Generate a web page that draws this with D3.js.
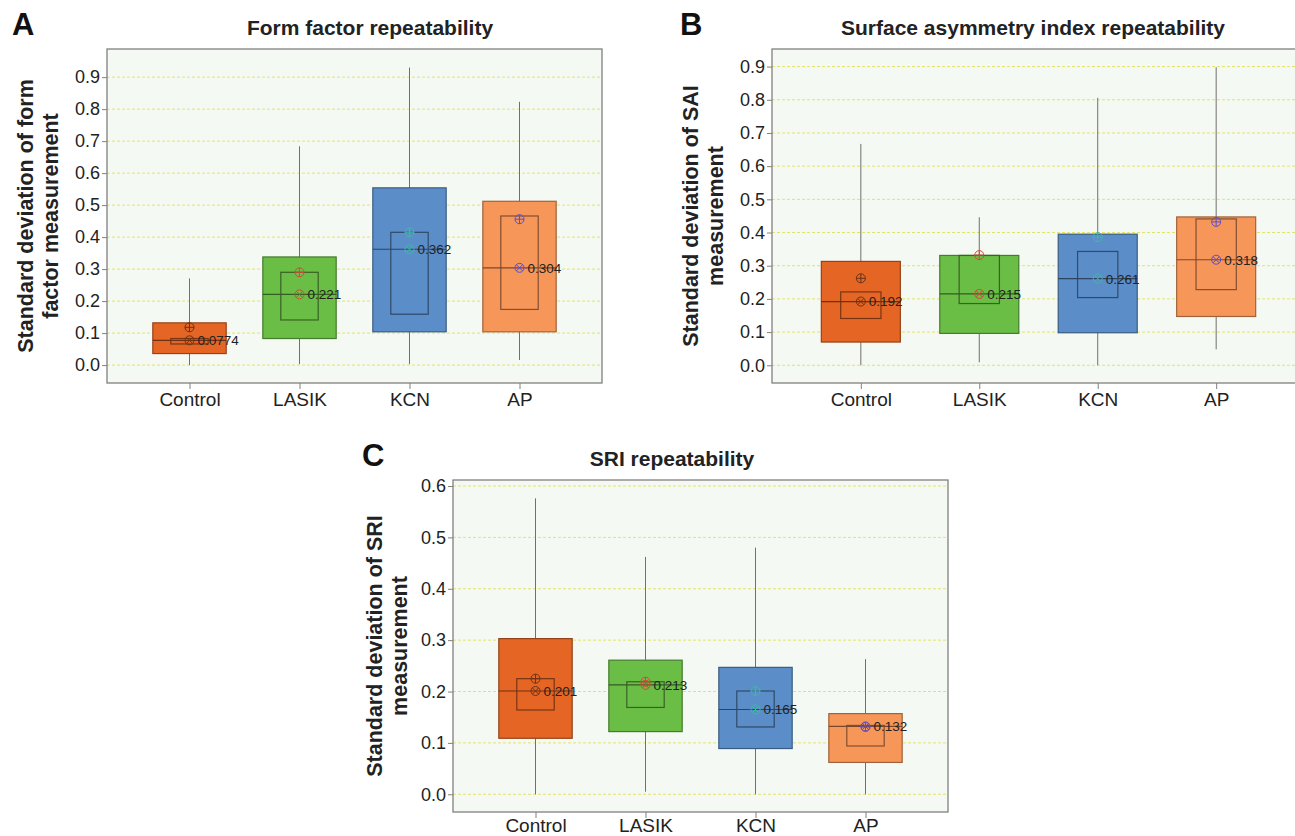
<!DOCTYPE html>
<html lang="en">
<head>
    <meta charset="UTF-8">
    <title>Repeatability box plots</title>
    <script src="https://d3js.org/d3.v7.min.js"></script>
    <style>
        body { margin: 0; background: #fff; }
        text { font-family: "Liberation Sans", Arial, sans-serif; }
    </style>
</head>
<body>
<div id="chart"></div>
<script>
    // groups shared by all three panels
    var categories = ["Control", "LASIK", "KCN", "AP"];
    var boxColors = ["#e56524", "#6abd45", "#5b8dc8", "#f79659"];
    var markColors = ["#6b3317", "#d9463a", "#3fb8a6", "#5a4fcf"];

    // panel A: form factor
    var ffWhiskLo = [0.000, 0.003, 0.003, 0.016];
    var ffQ1      = [0.036, 0.083, 0.104, 0.104];
    var ffMedian  = [0.0774, 0.221, 0.362, 0.304];
    var ffQ3      = [0.132, 0.338, 0.554, 0.512];
    var ffWhiskHi = [0.271, 0.684, 0.930, 0.823];
    var ffCiLo    = [0.066, 0.141, 0.159, 0.174];
    var ffCiHi    = [0.083, 0.290, 0.415, 0.466];
    var ffMean    = [0.118, 0.290, 0.415, 0.456];

    // panel B: SAI
    var saiWhiskLo = [0.000, 0.009, 0.000, 0.048];
    var saiQ1      = [0.070, 0.096, 0.098, 0.147];
    var saiMedian  = [0.192, 0.215, 0.261, 0.318];
    var saiQ3      = [0.313, 0.331, 0.395, 0.447];
    var saiWhiskHi = [0.667, 0.446, 0.806, 0.898];
    var saiCiLo    = [0.141, 0.186, 0.204, 0.228];
    var saiCiHi    = [0.221, 0.331, 0.343, 0.441];
    var saiMean    = [0.262, 0.332, 0.386, 0.432];

    // panel C: SRI
    var sriWhiskLo = [0.000, 0.005, 0.000, 0.000];
    var sriQ1      = [0.109, 0.122, 0.089, 0.062];
    var sriMedian  = [0.201, 0.213, 0.165, 0.132];
    var sriQ3      = [0.303, 0.261, 0.247, 0.157];
    var sriWhiskHi = [0.576, 0.462, 0.480, 0.263];
    var sriCiLo    = [0.164, 0.169, 0.131, 0.094];
    var sriCiHi    = [0.225, 0.219, 0.201, 0.134];
    var sriMean    = [0.225, 0.219, 0.201, 0.131];

    var svg = d3.select("#chart").append("svg")
        .attr("width", 1295)
        .attr("height", 836);

    function rows(lo, q1, med, q3, hi, ciLo, ciHi, mean) {
        return categories.map(function(c, i) {
            return {cat: c, i: i, lo: lo[i], q1: q1[i], med: med[i], q3: q3[i],
                    hi: hi[i], ciLo: ciLo[i], ciHi: ciHi[i], mean: mean[i]};
        });
    }

    function drawPanel(p) {
        var g = svg.append("g");
        var x = d3.scalePoint().domain(categories).range([p.left, p.right]).padding(0.75);
        var y = d3.scaleLinear().domain(p.yDomain).range([p.bottom, p.top]);
        var step = x.step();
        var bw = step * 0.667, iw = step * 0.34;

        // plot background
        g.append("rect")
            .attr("x", p.left).attr("y", p.top)
            .attr("width", p.right - p.left).attr("height", p.bottom - p.top)
            .attr("fill", "#f5f9f3");

        // dashed grid
        g.selectAll(".grid").data(p.ticks).enter().append("line")
            .attr("x1", p.left).attr("x2", p.right)
            .attr("y1", function(d) { return y(d); })
            .attr("y2", function(d) { return y(d); })
            .attr("stroke", "#e3e36a")
            .attr("stroke-dasharray", "3,2");

        var box = g.selectAll(".box").data(p.data).enter().append("g");

        // whiskers
        box.append("line")
            .attr("x1", function(d) { return x(d.cat); })
            .attr("x2", function(d) { return x(d.cat); })
            .attr("y1", function(d) { return y(d.lo); })
            .attr("y2", function(d) { return y(d.hi); })
            .attr("stroke", "#707070");

        // interquartile box
        box.append("rect")
            .attr("x", function(d) { return x(d.cat) - bw / 2; })
            .attr("y", function(d) { return y(d.q3); })
            .attr("width", bw)
            .attr("height", function(d) { return y(d.q1) - y(d.q3); })
            .attr("fill", function(d) { return boxColors[d.i]; })
            .attr("stroke", function(d) { return d3.color(boxColors[d.i]).darker(1.2); })
            .attr("stroke-width", 1.2);

        // median confidence box
        box.append("rect")
            .attr("x", function(d) { return x(d.cat) - iw / 2; })
            .attr("y", function(d) { return y(d.ciHi); })
            .attr("width", iw)
            .attr("height", function(d) { return y(d.ciLo) - y(d.ciHi); })
            .attr("fill", "none")
            .attr("stroke", function(d) { return d3.color(boxColors[d.i]).darker(1.8); })
            .attr("stroke-width", 1.2);

        // median line
        box.append("line")
            .attr("x1", function(d) { return x(d.cat) - bw / 2; })
            .attr("x2", function(d) { return x(d.cat) + bw / 2; })
            .attr("y1", function(d) { return y(d.med); })
            .attr("y2", function(d) { return y(d.med); })
            .attr("stroke", function(d) { return d3.color(boxColors[d.i]).darker(2); })
            .attr("stroke-width", 1.2);

        // mean marker (circle with plus)
        var r = 4.5;
        var mean = box.append("g")
            .attr("transform", function(d) { return "translate(" + x(d.cat) + "," + y(d.mean) + ")"; })
            .attr("stroke", function(d) { return markColors[d.i]; })
            .attr("fill", "none");
        mean.append("circle").attr("r", r);
        mean.append("path").attr("d", "M" + (-r) + ",0H" + r + "M0," + (-r) + "V" + r);

        // median marker (circle with cross)
        var med = box.append("g")
            .attr("transform", function(d) { return "translate(" + x(d.cat) + "," + y(d.med) + ")"; })
            .attr("stroke", function(d) { return markColors[d.i]; })
            .attr("fill", "none");
        med.append("circle").attr("r", r);
        var k = r * 0.7;
        med.append("path").attr("d", "M" + (-k) + "," + (-k) + "L" + k + "," + k + "M" + (-k) + "," + k + "L" + k + "," + (-k));

        box.append("text")
            .attr("x", function(d) { return x(d.cat) + 8; })
            .attr("y", function(d) { return y(d.med); })
            .attr("dy", "0.36em")
            .attr("font-size", 13.5)
            .attr("fill", "#222")
            .text(function(d) { return d.med; });

        // frame
        g.append("rect")
            .attr("x", p.left).attr("y", p.top)
            .attr("width", p.right - p.left).attr("height", p.bottom - p.top)
            .attr("fill", "none")
            .attr("stroke", "#808080")
            .attr("stroke-width", 1.3);

        // axes
        var yAxis = g.append("g")
            .attr("transform", "translate(" + p.left + ",0)")
            .call(d3.axisLeft(y).tickValues(p.ticks).tickFormat(d3.format(".1f")).tickSize(5).tickPadding(2));
        var xAxis = g.append("g")
            .attr("transform", "translate(0," + p.bottom + ")")
            .call(d3.axisBottom(x).tickSize(6).tickPadding(p.xPad));
        [yAxis, xAxis].forEach(function(a) {
            a.select(".domain").remove();
            a.selectAll("line").attr("stroke", "#808080");
            a.selectAll("text").attr("fill", "#222")
                .style("font-family", "Liberation Sans, Arial, sans-serif");
        });
        yAxis.selectAll("text").attr("font-size", 18);
        xAxis.selectAll("text").attr("font-size", 19);

        // title, panel letter, axis label
        g.append("text")
            .attr("x", p.titleX).attr("y", p.top - 14)
            .attr("text-anchor", "middle")
            .attr("font-size", 21).attr("font-weight", "bold").attr("fill", "#222")
            .text(p.title);
        g.append("text")
            .attr("x", p.letterX).attr("y", p.top - 14)
            .attr("font-size", 31).attr("font-weight", "bold").attr("fill", "#111")
            .text(p.letter);
        var lab = g.append("text")
            .attr("transform", "translate(" + p.labelX + "," + ((p.top + p.bottom) / 2) + ") rotate(-90)")
            .attr("text-anchor", "middle")
            .attr("font-size", 21.5).attr("font-weight", "bold").attr("fill", "#222");
        p.label.forEach(function(line, i) {
            lab.append("tspan").attr("x", 0).attr("dy", i === 0 ? 0 : 24.5).text(line);
        });
    }

    drawPanel({
        letter: "A", letterX: 12, title: "Form factor repeatability", titleX: 370,
        label: ["Standard deviation of form", "factor measurement"], labelX: 33,
        left: 107, right: 602, top: 49, bottom: 383, xPad: 4,
        yDomain: [-0.056, 0.988], ticks: d3.range(0, 0.95, 0.1),
        data: rows(ffWhiskLo, ffQ1, ffMedian, ffQ3, ffWhiskHi, ffCiLo, ffCiHi, ffMean)
    });

    drawPanel({
        letter: "B", letterX: 680, title: "Surface asymmetry index repeatability", titleX: 1033,
        label: ["Standard deviation of SAI", "measurement"], labelX: 698,
        left: 772, right: 1305, top: 49, bottom: 383, xPad: 4,
        yDomain: [-0.0534, 0.953], ticks: d3.range(0, 0.95, 0.1),
        data: rows(saiWhiskLo, saiQ1, saiMedian, saiQ3, saiWhiskHi, saiCiLo, saiCiHi, saiMean)
    });

    drawPanel({
        letter: "C", letterX: 362, title: "SRI repeatability", titleX: 672,
        label: ["Standard deviation of SRI", "measurement"], labelX: 382,
        left: 453, right: 948, top: 480, bottom: 812, xPad: 1,
        yDomain: [-0.0345, 0.6117], ticks: d3.range(0, 0.65, 0.1),
        data: rows(sriWhiskLo, sriQ1, sriMedian, sriQ3, sriWhiskHi, sriCiLo, sriCiHi, sriMean)
    });
</script>
</body>
</html>
